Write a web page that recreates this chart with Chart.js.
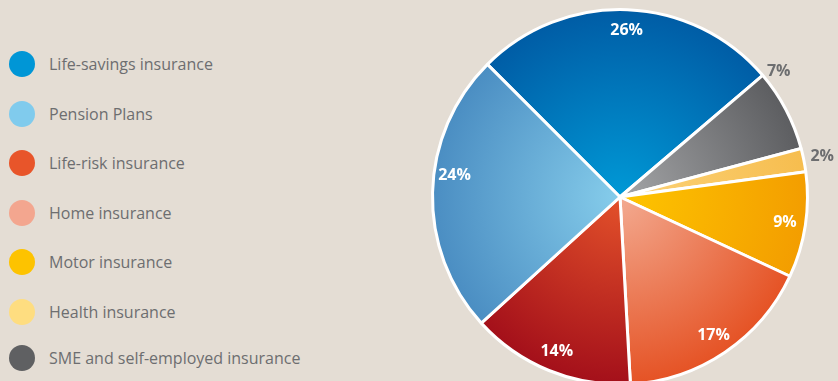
<!DOCTYPE html>
<html>
<head>
<meta charset="utf-8">
<script src="https://cdn.jsdelivr.net/npm/chart.js@4.4.1/dist/chart.umd.min.js"></script>
<style>
  html, body { margin: 0; padding: 0; background: #e4ddd4; overflow: hidden; }
  .wrap { position: relative; width: 838px; height: 381px; overflow: hidden; }
  .canvas-box { position: absolute; left: 0; top: 0; width: 838px; height: 392px; }
  .legend { position: absolute; left: 9px; top: 51px; margin: 0; padding: 0; list-style: none;
    font-family: "Open Sans", sans-serif; font-size: 16px; color: #6d6e70; }
  .legend li { display: flex; align-items: center; height: 26px; margin-bottom: 23.5px; white-space: nowrap; }
  .legend li:nth-child(6) { margin-bottom: 20.5px; }
  .legend .dot { width: 26px; height: 26px; border-radius: 50%; margin-right: 14px; flex: none; }
</style>
</head>
<body>
<div class="wrap">
  <ul class="legend" id="legend"></ul>
  <div class="canvas-box"><canvas id="pie"></canvas></div>
</div>
<script>
// slices, clockwise from the top-left
const categories = ['Life-savings insurance', 'SME and self-employed insurance', 'Health insurance',
  'Motor insurance', 'Home insurance', 'Life-risk insurance', 'Pension Plans'];
const shares = [26, 7, 2, 9, 17, 14, 24];
const shareLabels = ['26%', '7%', '2%', '9%', '17%', '14%', '24%'];

// legend goes in a different order than the slices
const legendOrder = ['Life-savings insurance', 'Pension Plans', 'Life-risk insurance', 'Home insurance',
  'Motor insurance', 'Health insurance', 'SME and self-employed insurance'];

const legendColors = {
  'Life-savings insurance': '#0096d6',
  'Pension Plans': '#80cbed',
  'Life-risk insurance': '#e8552a',
  'Home insurance': '#f3a68f',
  'Motor insurance': '#fdc300',
  'Health insurance': '#fedd80',
  'SME and self-employed insurance': '#5f6062'
};
// inner / outer colours of each slice gradient
const innerColors = ['#0099d6', '#a4a5a7', '#fcd37a', '#fec500', '#f3aa90', '#e3512a', '#86cdeb'];
const outerColors = ['#005ca5', '#5c5d60', '#f6bd4e', '#f39d00', '#e55224', '#a30f1a', '#4a8dc2'];

const legendEl = document.getElementById('legend');
legendOrder.forEach(name => {
  const li = document.createElement('li');
  li.innerHTML = `<span class="dot" style="background:${legendColors[name]}"></span><span>${name}</span>`;
  legendEl.appendChild(li);
});

function sliceFill(ctx){
  const chart = ctx.chart;
  const a = chart.chartArea;
  const i = ctx.dataIndex;
  if(!a) return outerColors[i];
  const cx = (a.left + a.right) / 2, cy = (a.top + a.bottom) / 2;
  const r = Math.min(a.width, a.height) / 2;
  const g = chart.ctx.createRadialGradient(cx, cy, 0, cx, cy, r);
  g.addColorStop(0, innerColors[i]);
  g.addColorStop(1, outerColors[i]);
  return g;
}

// where along each slice the label sits (0 = start edge, 1 = end edge)
const labelFrac = {1: 0.08, 6: 0.57};

// small labels: inside in white, the thin slices outside in grey
const pctLabels = {
  id: 'pctLabels',
  afterDatasetsDraw(c){
    const {ctx} = c;
    const meta = c.getDatasetMeta(0);
    meta.data.forEach((arc, i) => {
      const p = arc.getProps(['x', 'y', 'startAngle', 'endAngle', 'outerRadius'], true);
      const outside = shares[i] < 8;
      const frac = labelFrac[i] ?? 0.5;
      const ang = p.startAngle + (p.endAngle - p.startAngle) * frac;
      const dist = p.outerRadius * (outside ? (i === 1 ? 1.08 : 1.1) : 0.89);
      ctx.save();
      ctx.font = 'bold 16px "Open Sans", sans-serif';
      ctx.fillStyle = outside ? '#6d6e70' : '#ffffff';
      ctx.textAlign = 'center';
      ctx.textBaseline = 'middle';
      ctx.fillText(shareLabels[i], p.x + Math.cos(ang) * dist, p.y + Math.sin(ang) * dist);
      ctx.restore();
    });
  }
};

new Chart(document.getElementById('pie'), {
  type: 'pie',
  data: {
    labels: categories,
    datasets: [{
      data: shares,
      backgroundColor: sliceFill,
      hoverBackgroundColor: sliceFill,
      borderColor: '#ffffff',
      hoverBorderColor: '#ffffff',
      borderWidth: 3
    }]
  },
  options: {
    responsive: true,
    maintainAspectRatio: false,
    animation: false,
    rotation: -45,
    layout: { padding: { left: 431, right: 29, top: 8, bottom: 6 } },
    plugins: {
      legend: { display: false },
      tooltip: { enabled: false }
    }
  },
  plugins: [pctLabels]
});
</script>
</body>
</html>
